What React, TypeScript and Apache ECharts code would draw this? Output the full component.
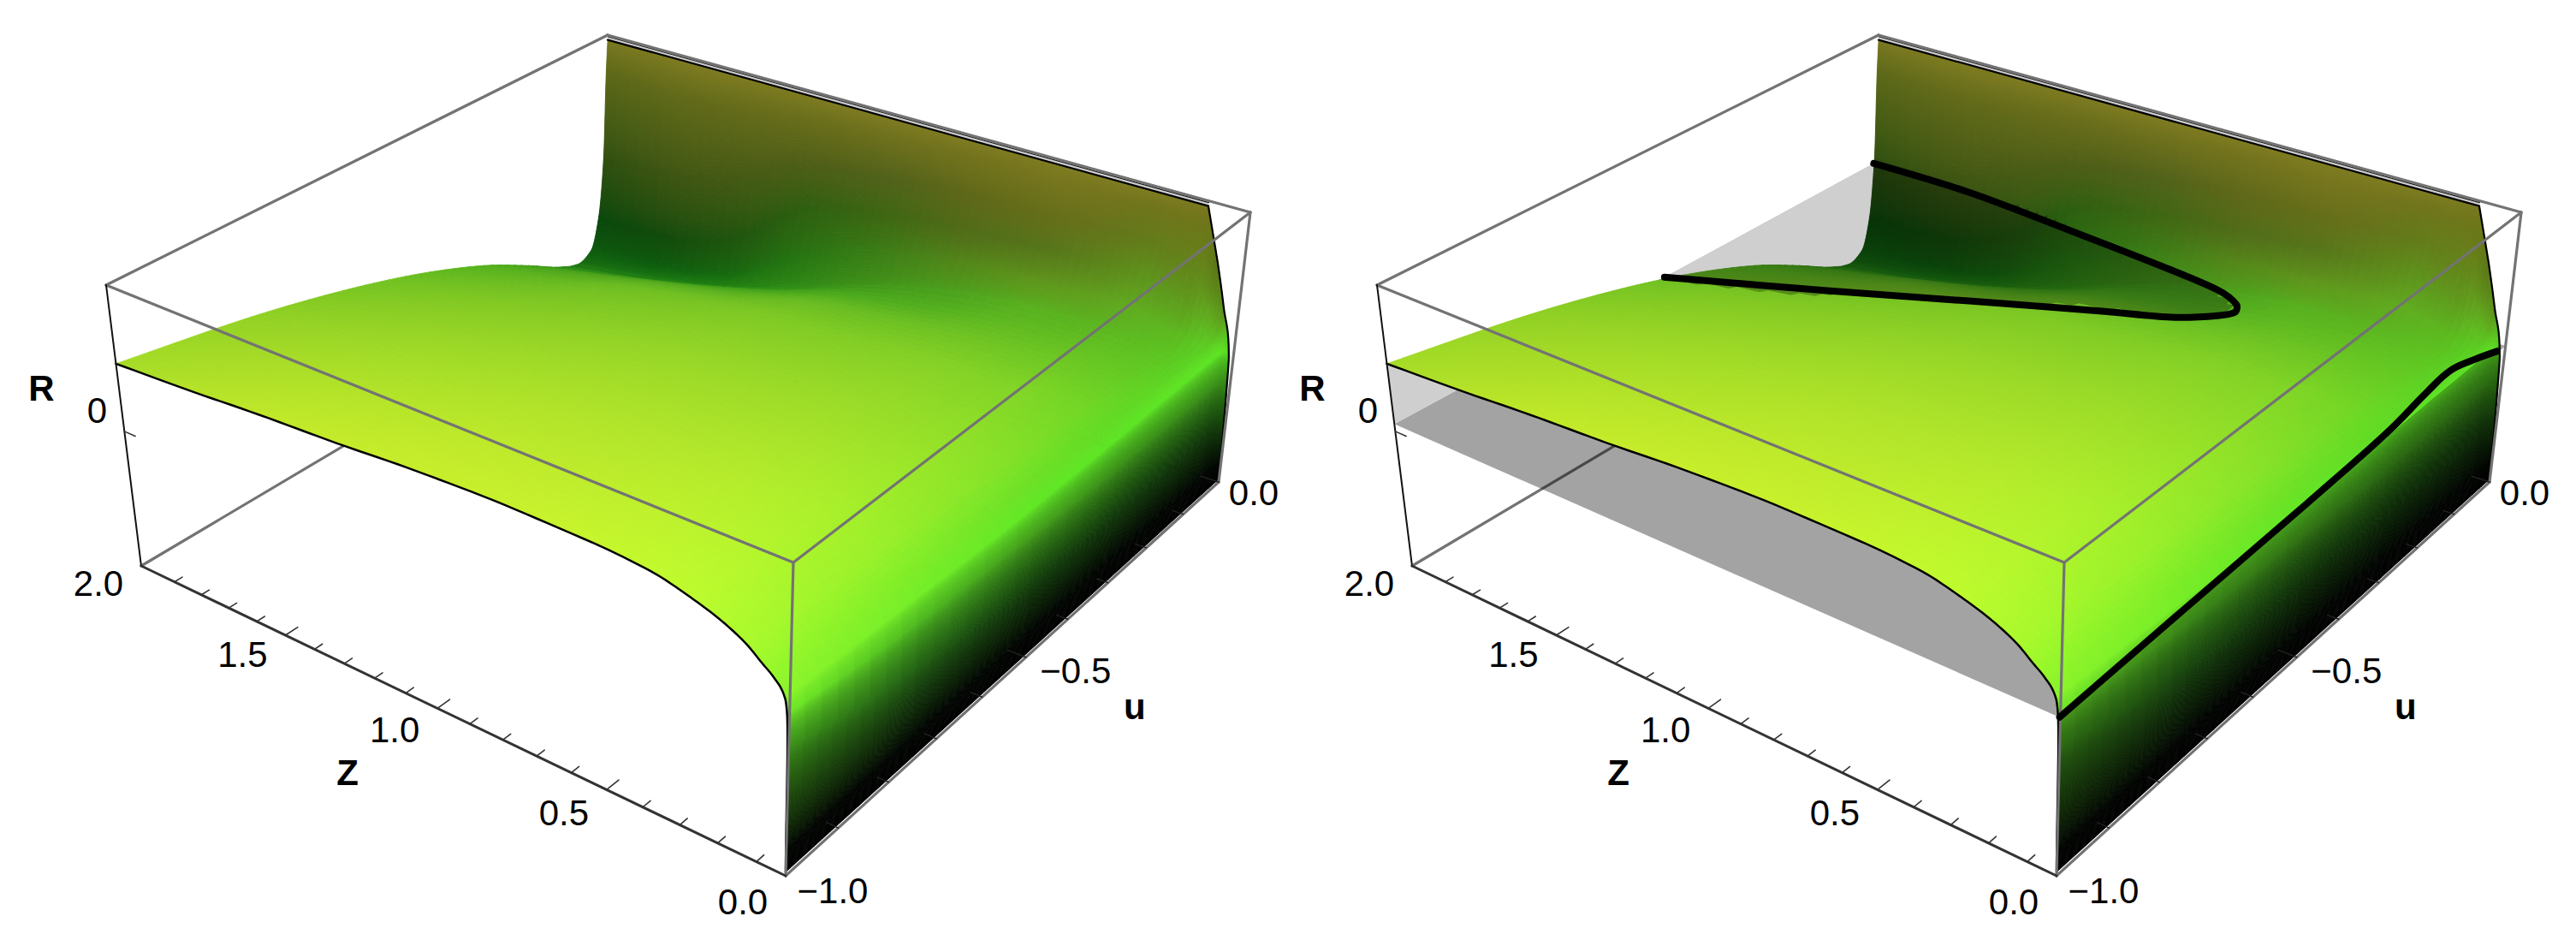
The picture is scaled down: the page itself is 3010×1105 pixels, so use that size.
import React, { useEffect, useRef } from "react";
import * as echarts from "echarts";

// Surface samples. Rows follow Z_NODES (far to near), columns follow U_NODES.
const Z_NODES = [2, 1.75, 1.5, 1.25, 1, 0.75, 0.5, 0.35, 0.25, 0.18, 0.11, 0.07, 0.04, 0.012, 0.006, 0.003, 0.001, 0];
const U_NODES = [-1, -0.75, -0.5, -0.3, -0.2, -0.12, -0.08, -0.05, -0.03, -0.015, -0.005, 0];
// Height of the surface, as a share of the box height
const HEIGHTS = [
  [0.72, 0.63, 0.505, 0.365, 0.27, 0.19, 0.165, 0.19, 0.3, 0.52, 0.85, 0.98],
  [0.735, 0.65, 0.535, 0.4, 0.32, 0.235, 0.2, 0.21, 0.31, 0.54, 0.85, 0.98],
  [0.755, 0.67, 0.565, 0.46, 0.375, 0.29, 0.25, 0.26, 0.39, 0.62, 0.87, 0.98],
  [0.77, 0.69, 0.59, 0.505, 0.425, 0.36, 0.33, 0.42, 0.59, 0.74, 0.9, 0.98],
  [0.79, 0.71, 0.615, 0.54, 0.49, 0.44, 0.43, 0.53, 0.65, 0.78, 0.91, 0.98],
  [0.8, 0.72, 0.625, 0.55, 0.515, 0.49, 0.505, 0.58, 0.68, 0.8, 0.92, 0.98],
  [0.797, 0.72, 0.63, 0.57, 0.54, 0.525, 0.54, 0.6, 0.7, 0.81, 0.92, 0.98],
  [0.783, 0.715, 0.63, 0.572, 0.545, 0.53, 0.545, 0.605, 0.705, 0.815, 0.925, 0.98],
  [0.753, 0.7, 0.63, 0.575, 0.55, 0.535, 0.55, 0.61, 0.71, 0.82, 0.93, 0.98],
  [0.724, 0.68, 0.615, 0.572, 0.55, 0.533, 0.54, 0.585, 0.665, 0.785, 0.915, 0.98],
  [0.68, 0.64, 0.6, 0.57, 0.55, 0.53, 0.53, 0.56, 0.62, 0.75, 0.9, 0.98],
  [0.64, 0.61, 0.58, 0.55, 0.53, 0.52, 0.52, 0.54, 0.58, 0.64, 0.72, 0.79],
  [0.61, 0.58, 0.55, 0.53, 0.525, 0.52, 0.52, 0.52, 0.53, 0.55, 0.59, 0.63],
  [0.56, 0.53, 0.505, 0.5, 0.5, 0.5, 0.5, 0.5, 0.5, 0.49, 0.475, 0.46],
  [0.51, 0.45, 0.42, 0.4, 0.4, 0.4, 0.4, 0.4, 0.39, 0.36, 0.31, 0.27],
  [0.4, 0.3, 0.27, 0.25, 0.25, 0.25, 0.25, 0.25, 0.24, 0.21, 0.16, 0.13],
  [0.08, 0.08, 0.08, 0.08, 0.08, 0.08, 0.08, 0.08, 0.08, 0.07, 0.06, 0.05],
  [0.012, 0.012, 0.012, 0.012, 0.012, 0.012, 0.012, 0.012, 0.012, 0.012, 0.012, 0.012],
];
const SHADES = [
  ["#a6dc27", "#90d024", "#70c121", "#52b01c", "#44a01a", "#2b8a16", "#1b6f12", "#0d5a0d", "#0a470b", "#2f4f0f", "#5c6818", "#7a7820"],
  ["#b4e228", "#9bd626", "#7ec723", "#64b720", "#4ea31c", "#309016", "#197612", "#0c5e0d", "#124a0b", "#3e5512", "#626a19", "#7e7b20"],
  ["#bfe829", "#a3dc27", "#88cc24", "#6ebe21", "#55aa1e", "#389818", "#217f12", "#156c0f", "#1f540d", "#465a14", "#666c1a", "#7e7b20"],
  ["#c5ec2a", "#aae028", "#90d226", "#76c223", "#5cb21f", "#3f9e1a", "#2e8c15", "#267411", "#2f5f10", "#4e5e16", "#6a6e1b", "#7e7b20"],
  ["#c8ee2b", "#b0e329", "#96d627", "#7ec924", "#66ba21", "#48a71c", "#3f9419", "#3a7c15", "#3e6612", "#52621a", "#6e701c", "#7e7b20"],
  ["#c8f02c", "#b2e62b", "#9ad927", "#82cd25", "#6cc022", "#50ac1e", "#4a9f1c", "#528619", "#506b17", "#5f6818", "#72721c", "#7e7b20"],
  ["#c6f62c", "#b4ea2b", "#9cdd28", "#85d126", "#70c423", "#5eb820", "#58b01e", "#5f961c", "#56751a", "#666e19", "#76751d", "#7e7b20"],
  ["#c2f92d", "#b0ee2b", "#98df28", "#82d326", "#6fc723", "#60bc20", "#5ab41f", "#60a01d", "#5b841a", "#64741a", "#73741c", "#7e7b20"],
  ["#bdfb2d", "#abf02b", "#94e128", "#7fd626", "#6dc923", "#62c021", "#5cb720", "#60aa1f", "#5e901b", "#627a19", "#70741b", "#7e7b20"],
  ["#b4fb2d", "#a3f02a", "#8ee228", "#78d625", "#6acb23", "#60c321", "#5cbc20", "#5eb21f", "#5e9a1c", "#62801a", "#6e751a", "#7c7a1f"],
  ["#aafa2c", "#9af02a", "#86e228", "#73d725", "#66cd23", "#5fc721", "#5cc220", "#5cb81f", "#5ea21c", "#62861a", "#6c7619", "#79761e"],
  ["#9ef92b", "#8aef29", "#78e327", "#68da25", "#62d423", "#5ccf22", "#5acc21", "#5ac620", "#5eb81f", "#62a01d", "#5c8018", "#5a7217"],
  ["#94f72a", "#7fed27", "#6ce126", "#62db24", "#5fd823", "#5cd522", "#5bd322", "#5cd022", "#5cc821", "#5eb81f", "#5fa01d", "#5a8a1b"],
  ["#8af42a", "#74ee27", "#60e824", "#5ee524", "#5ee524", "#5ee524", "#5ee524", "#5ee524", "#5ee524", "#5ce023", "#58d822", "#50cc20"],
  ["#6ee826", "#4eb81f", "#44a01b", "#3a9018", "#3a9018", "#3a9018", "#3a9018", "#3a9018", "#388c18", "#308016", "#246e12", "#1a5e0e"],
  ["#3a9018", "#226014", "#184a0e", "#14400c", "#14400c", "#14400c", "#14400c", "#14400c", "#14400c", "#123a0a", "#0e300a", "#0c2808"],
  ["#020602", "#020602", "#020602", "#020602", "#020602", "#020602", "#020602", "#020602", "#020602", "#020602", "#020602", "#020602"],
  ["#000000", "#000000", "#000000", "#000000", "#000000", "#000000", "#000000", "#000000", "#000000", "#000000", "#000000", "#000000"],
];

// Level curves drawn in the second panel
const UPPER_CURVE_Z = [2, 1.646, 1.21, 0.935, 0.743, 0.66, 0.64, 0.666, 0.75, 0.916, 1.239, 1.578, 2];
const UPPER_CURVE_U = [-0.017, -0.018, -0.043, -0.061, -0.078, -0.1, -0.12, -0.142, -0.179, -0.219, -0.3, -0.387, -0.49];
const LOWER_CURVE_Z = [0.002, 0.01, 0.017, 0.02, 0.028, 0.045, 0.05, 0.03, 0.004];
const LOWER_CURVE_U = [-1, -0.76, -0.51, -0.42, -0.28, -0.165, -0.1, -0.058, -0.02];
const LEVEL = 0.505;

const Z_TICKS = [2, 1.5, 1, 0.5, 0];
const Z_TICK_LABELS = ["2.0", "1.5", "1.0", "0.5", "0.0"];
const U_TICKS = [-1, -0.5, 0];
const U_TICK_LABELS = ["−1.0", "−0.5", "0.0"];
const R_ZERO_HEIGHT = 0.479;

// View of the box
const WIDTH = 3010;
const HEIGHT = 1105;
const PANEL_SHIFT = [0, 1485];
const BOTTOM = { near: [918, 1023], right: [1424, 563], left: [165, 661], far: [715, 335] };
const TOP = { near: [927, 657], right: [1461, 248], left: [124, 333], far: [710, 41] };
const FONT = "'Liberation Sans', Arial, sans-serif";
const GREY = "#737373";

function homography(p00: number[], p10: number[], p01: number[], p11: number[]) {
  const dx1 = p10[0] - p11[0], dy1 = p10[1] - p11[1];
  const dx2 = p01[0] - p11[0], dy2 = p01[1] - p11[1];
  const sx = p00[0] - p10[0] + p11[0] - p01[0], sy = p00[1] - p10[1] + p11[1] - p01[1];
  const det = dx1 * dy2 - dx2 * dy1;
  const g = (sx * dy2 - dx2 * sy) / det, h = (dx1 * sy - sx * dy1) / det;
  const a = p10[0] - p00[0] + g * p10[0], b = p01[0] - p00[0] + h * p01[0];
  const d = p10[1] - p00[1] + g * p10[1], e = p01[1] - p00[1] + h * p01[1];
  return (s: number, t: number) => {
    const w = g * s + h * t + 1;
    return [(a * s + b * t + p00[0]) / w, (d * s + e * t + p00[1]) / w];
  };
}
const bottomAt = homography(BOTTOM.near, BOTTOM.left, BOTTOM.right, BOTTOM.far);
const topAt = homography(TOP.near, TOP.left, TOP.right, TOP.far);
function project(z: number, u: number, h: number) {
  const b = bottomAt(z / 2, u + 1), t = topAt(z / 2, u + 1);
  return [b[0] + (t[0] - b[0]) * h, b[1] + (t[1] - b[1]) * h];
}
// tick positions along the Z axis sit slightly nearer than the plain view gives
const tickZ = (z: number) => (z > 0 && z < 2 ? z - 0.026 : z);

const RGB = SHADES.map((r) => r.map((c) => [parseInt(c.slice(1, 3), 16), parseInt(c.slice(3, 5), 16), parseInt(c.slice(5, 7), 16)]));
const toHex = (r: number, g: number, b: number) =>
  "#" + [r, g, b].map((v) => Math.max(0, Math.min(255, Math.round(v))).toString(16).padStart(2, "0")).join("");

// smooth, shape-keeping curve through the table's samples
function slopeAt(x0: number, x1: number, x2: number, y0: number, y1: number, y2: number) {
  const d0 = (y1 - y0) / (x1 - x0), d1 = (y2 - y1) / (x2 - x1);
  if (d0 * d1 <= 0) return 0;
  const w0 = 2 * (x2 - x1) + (x1 - x0), w1 = (x2 - x1) + 2 * (x1 - x0);
  return (w0 + w1) / (w0 / d0 + w1 / d1);
}
function curve(xs: number[], ys: number[], i: number, f: number) {
  const n = xs.length;
  const h = xs[i + 1] - xs[i];
  const d = (ys[i + 1] - ys[i]) / h;
  const m0 = i > 0 ? slopeAt(xs[i - 1], xs[i], xs[i + 1], ys[i - 1], ys[i], ys[i + 1]) : d;
  const m1 = i + 2 < n ? slopeAt(xs[i], xs[i + 1], xs[i + 2], ys[i], ys[i + 1], ys[i + 2]) : d;
  const f2 = f * f, f3 = f2 * f;
  return (2 * f3 - 3 * f2 + 1) * ys[i] + (f3 - 2 * f2 + f) * h * m0 + (-2 * f3 + 3 * f2) * ys[i + 1] + (f3 - f2) * h * m1;
}
const SHARP_ROW = Z_NODES.indexOf(0.11);
function heightAt(iz: number, p: number, iu: number, q: number) {
  // the wall's top corner is a sharp one
  if (iu >= 9 && iz === SHARP_ROW) {
    const a = curve(U_NODES, HEIGHTS[iz], iu, q), b = curve(U_NODES, HEIGHTS[iz + 1], iu, q);
    return a + (b - a) * p;
  }
  const rows: number[] = [], xs: number[] = [];
  for (let k = Math.max(0, iz - 1); k <= Math.min(Z_NODES.length - 1, iz + 2); k++) {
    rows.push(curve(U_NODES, HEIGHTS[k], iu, q));
    xs.push(Z_NODES[k]);
  }
  return curve(xs, rows, iz - Math.max(0, iz - 1), p);
}

type Item = { kind: string; pts?: number[][]; stroke?: string; fill?: string; width?: number; smooth?: number; text?: string; at?: number[]; off?: number[]; size?: number; bold?: boolean; };

const cells: number[][] = [];
for (let iz = 0; iz < Z_NODES.length - 1; iz++) for (let iu = U_NODES.length - 2; iu >= 0; iu--) cells.push([iz, iu]);

function cellRender(shift: number, darken: boolean) {
  return (params: any, api: any) => {
    const [iz, iu] = cells[params.dataIndex];
    const z0 = Z_NODES[iz], z1 = Z_NODES[iz + 1], u0 = U_NODES[iu], u1 = U_NODES[iu + 1];
    const c00 = RGB[iz][iu], c01 = RGB[iz][iu + 1], c10 = RGB[iz + 1][iu], c11 = RGB[iz + 1][iu + 1];
    const a = project(z0, u0, HEIGHTS[iz][iu]), b = project(z1, u0, HEIGHTS[iz + 1][iu]);
    const c = project(z0, u1, HEIGHTS[iz][iu + 1]), d = project(z1, u1, HEIGHTS[iz + 1][iu + 1]);
    let stepZ = 10, stepU = 10;
    if (iz >= 12) {
      stepZ = 2.5;
      stepU = iu >= 7 ? 4 : 25;
    } else if (iu >= 6) {
      stepZ = 14;
      stepU = 3;
    }
    const nz = Math.max(1, Math.min(120, Math.ceil(Math.max(Math.hypot(a[0] - b[0], a[1] - b[1]), Math.hypot(c[0] - d[0], c[1] - d[1])) / stepZ)));
    const nu = Math.max(1, Math.min(120, Math.ceil(Math.max(Math.hypot(a[0] - c[0], a[1] - c[1]), Math.hypot(b[0] - d[0], b[1] - d[1])) / stepU)));
    const cache: any = {};
    const point = (i: number, j: number) => {
      const key = i * 1000 + j;
      if (cache[key]) return cache[key];
      const p = i / nz, q = j / nu;
      const pos = project(z0 + (z1 - z0) * p, u0 + (u1 - u0) * q, heightAt(iz, p, iu, q));
      return (cache[key] = api.coord([pos[0] + shift, pos[1]]));
    };
    const children: any[] = [];
    for (let j = nu - 1; j >= 0; j--) {
      for (let i = 0; i < nz; i++) {
        const p = (i + 0.5) / nz, q = (j + 0.5) / nu;
        const w00 = (1 - p) * (1 - q), w10 = p * (1 - q), w01 = (1 - p) * q, w11 = p * q;
        const f = darken && heightAt(iz, p, iu, q) < LEVEL ? 0.72 : 1;
        const col = toHex(
          (c00[0] * w00 + c10[0] * w10 + c01[0] * w01 + c11[0] * w11) * f,
          (c00[1] * w00 + c10[1] * w10 + c01[1] * w01 + c11[1] * w11) * f,
          (c00[2] * w00 + c10[2] * w10 + c01[2] * w01 + c11[2] * w11) * f
        );
        children.push({
          type: "polygon",
          silent: true,
          shape: { points: [point(i, j), point(i + 1, j), point(i + 1, j + 1), point(i, j + 1)] },
          style: { fill: col, stroke: col, lineWidth: 0.9 },
        });
      }
    }
    return { type: "group", children };
  };
}

function itemRender(items: Item[], shift: number) {
  return (params: any, api: any) => {
    const it = items[params.dataIndex];
    const map = (p: number[]) => {
      const s = project(p[0], p[1], p[2]);
      return api.coord([s[0] + shift, s[1]]);
    };
    if (it.kind === "text") {
      const s = map(it.at as number[]);
      return {
        type: "text",
        silent: true,
        style: {
          x: s[0] + (it.off as number[])[0],
          y: s[1] + (it.off as number[])[1],
          text: it.text,
          fill: "#000000",
          fontFamily: FONT,
          fontSize: it.size,
          fontWeight: it.bold ? "bold" : "normal",
          align: "center",
          verticalAlign: "middle",
        },
      };
    }
    const points = (it.pts as number[][]).map(map);
    if (it.kind === "polygon") {
      return { type: "polygon", silent: true, shape: { points }, style: { fill: it.fill, stroke: "none" } };
    }
    return {
      type: "polyline",
      silent: true,
      shape: { points, smooth: it.smooth || 0 },
      style: { stroke: it.stroke, lineWidth: it.width, fill: "none", lineCap: "round", lineJoin: "round" },
    };
  };
}

function line(a: number[], b: number[], stroke: string, width: number): Item {
  return { kind: "line", pts: [a, b], stroke, width };
}
// fine outlines along the table's rows and columns
function alongU(iz: number, fromIu: number, toIu: number) {
  const pts: number[][] = [];
  for (let iu = fromIu; iu < toIu; iu++) {
    for (let k = 0; k < 6; k++) {
      const q = k / 6;
      pts.push([Z_NODES[iz], U_NODES[iu] + (U_NODES[iu + 1] - U_NODES[iu]) * q, heightAt(Math.min(iz, Z_NODES.length - 2), 0, iu, q)]);
    }
  }
  return pts;
}
function alongZ(iu: number, fromIz: number) {
  const pts: number[][] = [];
  const q = iu >= U_NODES.length - 1 ? 1 : 0;
  const ui = q ? iu - 1 : iu;
  for (let iz = fromIz; iz < Z_NODES.length - 1; iz++) {
    for (let k = 0; k <= 8; k++) {
      const p = k / 8;
      pts.push([Z_NODES[iz] + (Z_NODES[iz + 1] - Z_NODES[iz]) * p, U_NODES[iu], heightAt(iz, p, ui, q)]);
    }
  }
  return pts;
}

function behindItems(panel: number): Item[] {
  const out: Item[] = [line([2, -1, 0], [2, 0, 0], GREY, 3.2), line([2, 0, 0], [0, 0, 0], GREY, 3.2)];
  if (panel === 1) {
    out.push({ kind: "polygon", fill: "rgba(0,0,0,0.36)", pts: [[2, -1, LEVEL], [2, 0, LEVEL], [0, 0, LEVEL], [0, -1, LEVEL]] });
    const row = alongU(0, 0, 8);
    const pts: number[][] = [[2, -1, LEVEL], [2, -0.017, LEVEL], [2, -0.03, HEIGHTS[0][8]]];
    for (let i = row.length - 1; i >= 0; i--) pts.push(row[i]);
    out.push({ kind: "polygon", fill: "#ffffff", pts });
    out.push({ kind: "polygon", fill: "rgba(0,0,0,0.19)", pts });
  }
  return out;
}

function frontItems(panel: number): Item[] {
  const out: Item[] = [];
  const last = U_NODES.length - 1;
  const wallStart = Z_NODES.indexOf(0.11);
  // surface outline
  out.push({ kind: "line", stroke: "#000000", width: 2.5, pts: alongZ(0, 0) });
  out.push({ kind: "line", stroke: "#000000", width: 2.2, pts: alongZ(last, wallStart) });
  // top stripe of the wall
  out.push({ kind: "polygon", fill: "#cfcfcf", pts: [[2, 0, 0.983], [0.11, 0, 0.983], [0.11, 0, 0.993], [2, 0, 0.993]] });
  out.push(line([2, 0, 0.981], [0.11, 0, 0.981], "#000000", 2.2));
  out.push(line([2, 0, 0.994], [0.11, 0, 0.994], "#111111", 1.2));
  // box
  out.push(line([2, -1, 1], [2, 0, 1], GREY, 3.2));
  out.push(line([2, 0, 1], [0, 0, 1], GREY, 3.2));
  out.push(line([2, -1, 1], [0, -1, 1], GREY, 3.2));
  out.push(line([0, -1, 1], [0, 0, 1], GREY, 3.2));
  out.push(line([0, -1, 1], [0, -1, 0], GREY, 3.2));
  out.push(line([0, 0, 1], [0, 0, 0], GREY, 3.2));
  out.push(line([0, -1, 0], [0, 0, 0], GREY, 3.2));
  out.push(line([2, -1, 0], [2, -1, 1], "#111111", 2));
  out.push(line([2, -1, 0], [0, -1, 0], "#333333", 3));
  // ticks
  for (let i = 1; i < 20; i++) {
    const z = tickZ(i / 10);
    out.push(line([z, -1, 0], [z, i % 5 === 0 ? -0.978 : -0.986, 0], "#333333", 1.6));
  }
  for (let i = 1; i < 10; i++) {
    const u = -i / 10;
    out.push(line([0, u, 0], [i === 5 ? 0.05 : 0.03, u, 0], "#222222", 1.4));
  }
  out.push(line([0, 0, 0], [0.05, 0, 0], "#222222", 1.4));
  out.push(line([2, -1, R_ZERO_HEIGHT], [1.96, -1, R_ZERO_HEIGHT], "#333333", 1.6));
  // level curves
  if (panel === 1) {
    out.push({ kind: "line", stroke: "#000000", width: 8, smooth: 0.3, pts: UPPER_CURVE_Z.map((z, i) => [z, UPPER_CURVE_U[i], LEVEL]) });
    out.push({ kind: "line", stroke: "#000000", width: 8, smooth: 0.4, pts: LOWER_CURVE_Z.map((z, i) => [z, LOWER_CURVE_U[i], LEVEL]) });
  }
  // tick labels
  Z_TICKS.forEach((z, i) => out.push({ kind: "text", text: Z_TICK_LABELS[i], at: [tickZ(z), -1, 0], off: [-50, 20 + (2 - z) * 5], size: 42 }));
  const uOff = [[55, 17], [58, 16], [41, 12]];
  U_TICKS.forEach((u, i) => out.push({ kind: "text", text: U_TICK_LABELS[i], at: [0, u, 0], off: uOff[i], size: 42 }));
  out.push({ kind: "text", text: "0", at: [2, -1, R_ZERO_HEIGHT], off: [-32, -24], size: 42 });
  out.push({ kind: "text", text: "R", at: [2, -1, R_ZERO_HEIGHT], off: [-97, -50], size: 42, bold: true });
  out.push({ kind: "text", text: "Z", at: [tickZ(1), -1, 0], off: [-105, 75], size: 42, bold: true });
  out.push({ kind: "text", text: "u", at: [0, -0.5, 0], off: [127, 58], size: 42, bold: true });
  return out;
}

function seriesFor(items: Item[], shift: number, z: number) {
  return {
    type: "custom",
    coordinateSystem: "cartesian2d",
    clip: false,
    silent: true,
    z,
    progressive: 0,
    renderItem: itemRender(items, shift),
    data: items.map((_, i) => [i, 0]),
    animation: false,
  };
}

export default function App() {
  const ref = useRef<HTMLDivElement>(null);
  useEffect(() => {
    if (!ref.current) return;
    const chart = echarts.init(ref.current, undefined, { renderer: "svg", width: WIDTH, height: HEIGHT });
    const series: any[] = [];
    PANEL_SHIFT.forEach((shift, panel) => {
      series.push(seriesFor(behindItems(panel), shift, 1));
      series.push({
        type: "custom",
        coordinateSystem: "cartesian2d",
        clip: false,
        silent: true,
        z: 2,
        progressive: 0,
        renderItem: cellRender(shift, panel === 1),
        data: cells.map((c, i) => [i, 0]),
        animation: false,
      });
      series.push(seriesFor(frontItems(panel), shift, 3));
    });
    chart.setOption({
      animation: false,
      backgroundColor: "#ffffff",
      grid: { left: 0, right: 0, top: 0, bottom: 0 },
      xAxis: { type: "value", min: 0, max: WIDTH, show: false },
      yAxis: { type: "value", min: 0, max: HEIGHT, inverse: true, show: false },
      series,
    });
    return () => chart.dispose();
  }, []);
  return <div ref={ref} style={{ position: "absolute", left: 0, top: 0, width: WIDTH, height: HEIGHT }} />;
}
